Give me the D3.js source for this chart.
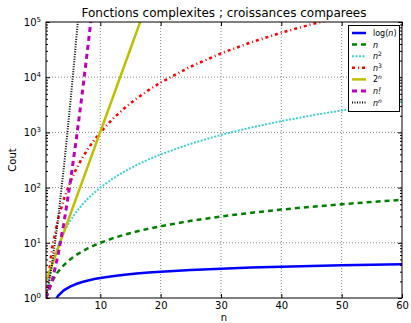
<!DOCTYPE html>
<html>
<head>
<meta charset="utf-8">
<script src="https://cdn.jsdelivr.net/npm/d3@7"></script>
<style>
  body { margin: 0; background: #fff; }
  text { font-family: "DejaVu Sans", sans-serif; }
</style>
</head>
<body>
<svg id="chart" width="411" height="323"></svg>
<script>
// values, at integer n
var nVals   = [1, 2, 3, 4, 5, 6, 7, 8, 9, 10, 12, 14, 16, 18, 20, 25, 30, 35, 40, 45, 50, 55, 60];
var logVals = [null, 0.69, 1.10, 1.39, 1.61, 1.79, 1.95, 2.08, 2.20, 2.30, 2.48, 2.64, 2.77, 2.89, 3.00, 3.22, 3.40, 3.56, 3.69, 3.81, 3.91, 4.01, 4.09];
var linVals = [1, 2, 3, 4, 5, 6, 7, 8, 9, 10, 12, 14, 16, 18, 20, 25, 30, 35, 40, 45, 50, 55, 60];
var sqVals  = [1, 4, 9, 16, 25, 36, 49, 64, 81, 100, 144, 196, 256, 324, 400, 625, 900, 1225, 1600, 2025, 2500, 3025, 3600];
var cubeVals = [1, 8, 27, 64, 125, 216, 343, 512, 729, 1000, 1728, 2744, 4096, 5832, 8000, 15625, 27000, 42875, 64000, 91125, 125000, 166375, 216000];
var expN    = [1, 2, 3, 4, 5, 6, 7, 8, 9, 10, 11, 12, 13, 14, 15, 16, 17];
var expVals = [2, 4, 8, 16, 32, 64, 128, 256, 512, 1024, 2048, 4096, 8192, 16384, 32768, 65536, 131072];
var factN   = [1, 2, 3, 4, 5, 6, 7, 8, 9];
var factVals = [1, 2, 6, 24, 120, 720, 5040, 40320, 362880];
var nnN     = [1, 2, 3, 4, 5, 6, 7];
var nnVals  = [1, 4, 27, 256, 3125, 46656, 823543];

var series = [
  {label: "log", sup: "(n)", xs: nVals, ys: logVals, color: "#0000ff", width: 2.5, dash: null},
  {label: "n", sup: "", xs: nVals, ys: linVals, color: "#008000", width: 2.5, dash: "5,4"},
  {label: "n", sup: "2", xs: nVals, ys: sqVals, color: "#40d0d0", width: 2, dash: "2,1.5"},
  {label: "n", sup: "3", xs: nVals, ys: cubeVals, color: "#ff0000", width: 2.5, dash: "3,3,1,3"},
  {label: "2", sup: "n", xs: expN, ys: expVals, color: "#bfbf00", width: 2.5, dash: null},
  {label: "n!", sup: "", xs: factN, ys: factVals, color: "#bf00bf", width: 3, dash: "5,4"},
  {label: "n", sup: "n", xs: nnN, ys: nnVals, color: "#000000", width: 2, dash: "1,1.5"}
];

var svg = d3.select("#chart");
var mLeft = 46, mRight = 402, mTop = 22, mBottom = 298;

var x = d3.scaleLinear().domain([1, 60]).range([mLeft, mRight]);
var y = d3.scaleLog().domain([1, 1e5]).range([mBottom, mTop]);

svg.append("defs").append("clipPath").attr("id", "clip")
  .append("rect").attr("x", mLeft).attr("y", mTop)
  .attr("width", mRight - mLeft).attr("height", mBottom - mTop);

// grid
var grid = svg.append("g").attr("stroke", "#000").attr("stroke-width", 0.8)
  .attr("stroke-dasharray", "1,2").attr("opacity", 0.6);
[10, 20, 30, 40, 50].forEach(function(v) {
  grid.append("line").attr("x1", x(v)).attr("x2", x(v)).attr("y1", mTop).attr("y2", mBottom);
});
[10, 100, 1000, 10000].forEach(function(v) {
  grid.append("line").attr("x1", mLeft).attr("x2", mRight).attr("y1", y(v)).attr("y2", y(v));
});

// curves
var line = d3.line()
  .defined(function(d) { return d[1] != null && d[1] > 0; })
  .x(function(d) { return x(d[0]); })
  .y(function(d) { return y(d[1]); });

var plot = svg.append("g").attr("clip-path", "url(#clip)");
series.forEach(function(s) {
  var pts = s.xs.map(function(v, i) { return [v, s.ys[i]]; });
  plot.append("path")
    .attr("d", line(pts))
    .attr("fill", "none")
    .attr("stroke", s.color)
    .attr("stroke-width", s.width)
    .attr("stroke-dasharray", s.dash);
});

// axes (ticks inside, matplotlib classic)
var xTicks = [10, 20, 30, 40, 50, 60];
svg.append("g").attr("transform", "translate(0," + mBottom + ")")
  .call(d3.axisBottom(x).tickValues(xTicks).tickSize(-4).tickPadding(4))
  .call(function(g) { g.select(".domain").remove(); });
svg.append("g").attr("transform", "translate(0," + mTop + ")")
  .call(d3.axisTop(x).tickValues(xTicks).tickSize(-4).tickFormat(""))
  .call(function(g) { g.select(".domain").remove(); });

var minor = [];
for (var e = 0; e < 5; e++) {
  for (var k = 2; k < 10; k++) minor.push(k * Math.pow(10, e));
}
var yMajor = [1, 10, 100, 1000, 10000, 100000];

svg.append("g").attr("transform", "translate(" + mLeft + ",0)")
  .call(d3.axisLeft(y).tickValues(yMajor).tickSize(-4).tickFormat(""))
  .select(".domain").remove();
svg.append("g").attr("transform", "translate(" + mLeft + ",0)")
  .call(d3.axisLeft(y).tickValues(minor).tickSize(-2).tickFormat(""))
  .select(".domain").remove();
svg.append("g").attr("transform", "translate(" + mRight + ",0)")
  .call(d3.axisRight(y).tickValues(yMajor).tickSize(-4).tickFormat(""))
  .select(".domain").remove();
svg.append("g").attr("transform", "translate(" + mRight + ",0)")
  .call(d3.axisRight(y).tickValues(minor).tickSize(-2).tickFormat(""))
  .select(".domain").remove();

svg.selectAll(".tick text").attr("font-size", 10).attr("fill", "#000")
  .attr("font-family", "DejaVu Sans");
svg.selectAll(".tick line").attr("stroke", "#000");

// y tick labels as 10^k
yMajor.forEach(function(v) {
  var t = svg.append("text").attr("x", mLeft - 5).attr("y", y(v) + 4)
    .attr("text-anchor", "end").attr("font-size", 10);
  t.append("tspan").text("10");
  t.append("tspan").attr("dy", -4).attr("font-size", 7).text(Math.round(Math.log10(v)));
});

svg.append("rect").attr("x", mLeft).attr("y", mTop)
  .attr("width", mRight - mLeft).attr("height", mBottom - mTop)
  .attr("fill", "none").attr("stroke", "#000").attr("stroke-width", 1);

// labels
svg.append("text").attr("x", (mLeft + mRight) / 2).attr("y", 17)
  .attr("text-anchor", "middle").attr("font-size", 12)
  .text("Fonctions complexites ; croissances comparees");
svg.append("text").attr("x", (mLeft + mRight) / 2).attr("y", 321)
  .attr("text-anchor", "middle").attr("font-size", 10).text("n");
svg.append("text").attr("transform", "translate(16," + ((mTop + mBottom) / 2) + ") rotate(-90)")
  .attr("text-anchor", "middle").attr("font-size", 10).text("Cout");

// legend
var lg = svg.append("g");
lg.append("rect").attr("x", 348.5).attr("y", 25.5).attr("width", 51).attr("height", 86)
  .attr("fill", "#fff").attr("stroke", "#000").attr("stroke-width", 1);
series.forEach(function(s, i) {
  var yy = 33 + i * 11.6;
  lg.append("line").attr("x1", 352).attr("x2", 366).attr("y1", yy).attr("y2", yy)
    .attr("stroke", s.color).attr("stroke-width", s.width).attr("stroke-dasharray", s.dash);
  var t = lg.append("text").attr("x", 373).attr("y", yy + 3).attr("font-size", 8)
    .attr("font-family", "DejaVu Serif");
  if (s.label === "log") {
    t.append("tspan").text("log");
    t.append("tspan").text("(");
    t.append("tspan").attr("font-style", "italic").text("n");
    t.append("tspan").text(")");
  } else {
    var isNum = s.label === "2";
    t.append("tspan").attr("font-style", isNum ? "normal" : "italic").text(s.label);
    if (s.sup) {
      t.append("tspan").attr("dy", -3).attr("font-size", 6)
        .attr("font-style", s.sup === "n" ? "italic" : "normal").text(s.sup);
    }
  }
});
</script>
</body>
</html>
